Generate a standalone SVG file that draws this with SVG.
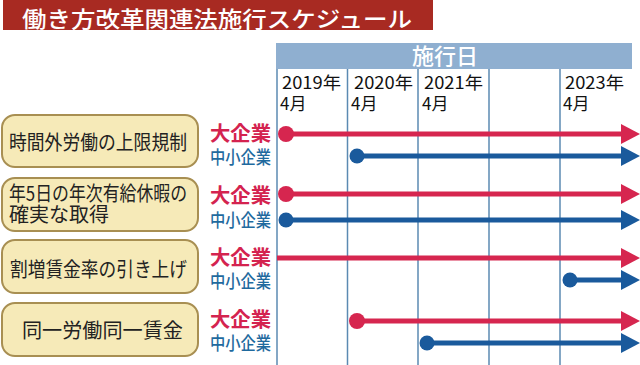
<svg xmlns="http://www.w3.org/2000/svg" width="640" height="365" viewBox="0 0 640 365">
<style>
text{font-family:"Noto Sans CJK JP","Noto Sans",sans-serif;}
.title{fill:#fff;font-size:22px;font-weight:500;}
.hdr{fill:#fff;font-size:22px;font-weight:500;}
.yr{fill:#111;font-size:17px;font-weight:400;}
.box{fill:#f6eab8;stroke:#a88f52;stroke-width:2;}
.bt{fill:#222;font-size:20px;font-weight:400;}
.big{fill:#d4234f;font-size:20px;font-weight:700;}
.sme{fill:#1f6a9e;font-size:18px;font-weight:500;}
.vl{stroke:#5b8ab2;stroke-width:1.5;}
.r{stroke:#d6264f;stroke-width:5;fill:none;}
.b{stroke:#1a5a9c;stroke-width:5;fill:none;}
</style>
<defs>
<marker id="ar" markerUnits="userSpaceOnUse" markerWidth="19" markerHeight="20" refX="0" refY="10" orient="auto"><path d="M0,0 L19,10 L0,20 z" fill="#d6264f"/></marker>
<marker id="ab" markerUnits="userSpaceOnUse" markerWidth="19" markerHeight="20" refX="0" refY="10" orient="auto"><path d="M0,0 L19,10 L0,20 z" fill="#1a5a9c"/></marker>
</defs>
<rect width="640" height="365" fill="#fff"/>
<g id="title">
<rect x="3" y="0" width="430" height="30" fill="#a82a22"/>
<text class="title" x="22" y="27" textLength="390" lengthAdjust="spacingAndGlyphs">働き方改革関連法施行スケジュール</text>
</g>
<g id="header">
<rect x="276" y="43" width="356" height="26" fill="#8fafd0"/>
<text class="hdr" x="445" y="64" text-anchor="middle">施行日</text>
</g>
<g id="grid">
<line class="vl" x1="277" y1="69" x2="277" y2="365"/>
<line class="vl" x1="347.5" y1="69" x2="347.5" y2="365"/>
<line class="vl" x1="418" y1="69" x2="418" y2="365"/>
<line class="vl" x1="489" y1="69" x2="489" y2="365"/>
<line class="vl" x1="560" y1="69" x2="560" y2="365"/>
<text class="yr" x="282" y="89" textLength="59" lengthAdjust="spacingAndGlyphs">2019年</text>
<text class="yr" x="280" y="110">4月</text>
<text class="yr" x="354" y="89" textLength="59" lengthAdjust="spacingAndGlyphs">2020年</text>
<text class="yr" x="351" y="110">4月</text>
<text class="yr" x="424" y="89" textLength="59" lengthAdjust="spacingAndGlyphs">2021年</text>
<text class="yr" x="422" y="110">4月</text>
<text class="yr" x="565" y="89" textLength="59" lengthAdjust="spacingAndGlyphs">2023年</text>
<text class="yr" x="563" y="110">4月</text>
</g>
<g id="row1">
<rect class="box" x="2" y="115" width="196" height="52" rx="13"/>
<text class="bt" x="9" y="150" textLength="178" lengthAdjust="spacingAndGlyphs">時間外労働の上限規制</text>
<text class="big" x="210" y="141" textLength="61" lengthAdjust="spacingAndGlyphs">大企業</text>
<text class="sme" x="210" y="164" textLength="61" lengthAdjust="spacingAndGlyphs">中小企業</text>
</g>
<g id="row2">
<rect class="box" x="2" y="178" width="196" height="53" rx="13"/>
<text class="bt" x="9" y="201" font-size="18" textLength="178" lengthAdjust="spacingAndGlyphs">年5日の年次有給休暇の</text>
<text class="bt" x="9" y="222" font-size="18">確実な取得</text>
<text class="big" x="210" y="203" textLength="61" lengthAdjust="spacingAndGlyphs">大企業</text>
<text class="sme" x="210" y="227" textLength="61" lengthAdjust="spacingAndGlyphs">中小企業</text>
</g>
<g id="row3">
<rect class="box" x="2" y="240" width="196" height="53" rx="13"/>
<text class="bt" x="10" y="277" textLength="177" lengthAdjust="spacingAndGlyphs">割増賃金率の引き上げ</text>
<text class="big" x="210" y="265" textLength="61" lengthAdjust="spacingAndGlyphs">大企業</text>
<text class="sme" x="210" y="288" textLength="61" lengthAdjust="spacingAndGlyphs">中小企業</text>
</g>
<g id="row4">
<rect class="box" x="2" y="303" width="196" height="53" rx="13"/>
<text class="bt" x="22" y="338" textLength="161" lengthAdjust="spacingAndGlyphs">同一労働同一賃金</text>
<text class="big" x="210" y="327" textLength="61" lengthAdjust="spacingAndGlyphs">大企業</text>
<text class="sme" x="210" y="350" textLength="61" lengthAdjust="spacingAndGlyphs">中小企業</text>
</g>
<g id="connectors">
<line class="r" x1="286" y1="134" x2="621" y2="134" marker-end="url(#ar)"/>
<circle cx="286" cy="134" r="8" fill="#d6264f"/>
<line class="b" x1="357" y1="156" x2="621" y2="156" marker-end="url(#ab)"/>
<circle cx="357" cy="156" r="7.5" fill="#1a5a9c"/>
<line class="r" x1="286" y1="194" x2="621" y2="194" marker-end="url(#ar)"/>
<circle cx="286" cy="194" r="8" fill="#d6264f"/>
<line class="b" x1="286" y1="220" x2="621" y2="220" marker-end="url(#ab)"/>
<circle cx="286" cy="220" r="7.5" fill="#1a5a9c"/>
<line class="r" x1="277" y1="258" x2="621" y2="258" marker-end="url(#ar)"/>
<line class="b" x1="570" y1="280" x2="621" y2="280" marker-end="url(#ab)"/>
<circle cx="570" cy="280" r="7.5" fill="#1a5a9c"/>
<line class="r" x1="357" y1="321" x2="621" y2="321" marker-end="url(#ar)"/>
<circle cx="357" cy="321" r="8" fill="#d6264f"/>
<line class="b" x1="427" y1="343" x2="621" y2="343" marker-end="url(#ab)"/>
<circle cx="427" cy="343" r="7.5" fill="#1a5a9c"/>
</g>
</svg>
